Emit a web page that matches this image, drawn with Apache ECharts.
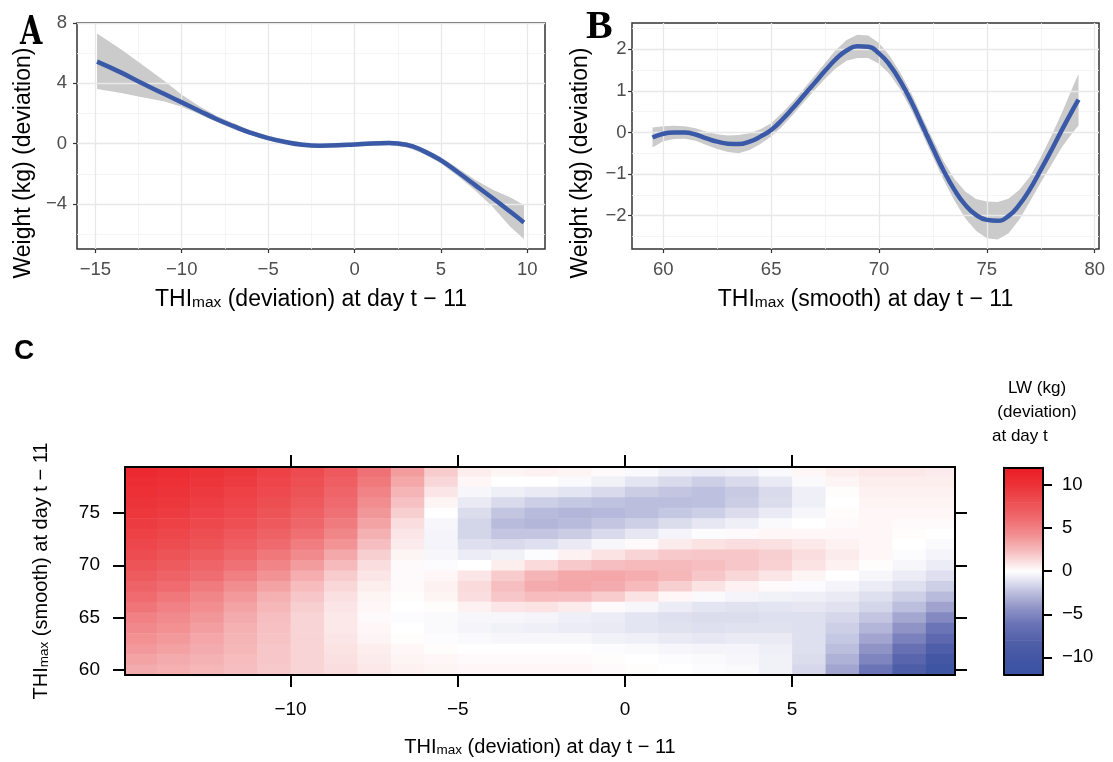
<!DOCTYPE html>
<html><head><meta charset="utf-8">
<script src="https://cdn.jsdelivr.net/npm/echarts@6/dist/echarts.min.js"></script>
<style>html,body{margin:0;padding:0;background:#fff}#chart{width:1113px;height:762px}</style>
</head><body><div id="chart"></div>
<script>
// ---------- Panel A: THImax (deviation) vs weight deviation ----------
const thiDevA = [-14.9,-13.5,-12.5,-11,-10,-9,-8,-7,-6,-5,-4,-3,-2,-1,0,1,2,3,4,5,6,7,8,9,9.8];
const fitA    = [5.44,4.71,4.12,3.29,2.74,2.19,1.64,1.16,0.72,0.37,0.11,-0.07,-0.13,-0.11,-0.05,0.02,0.04,-0.07,-0.49,-1.1,-1.91,-2.76,-3.62,-4.5,-5.22];
const upperA  = [7.3,6.25,5.41,4.16,3.24,2.5,1.86,1.36,0.88,0.52,0.26,0.08,0.02,0.04,0.1,0.17,0.19,0.09,-0.31,-0.88,-1.64,-2.4,-3.05,-3.55,-4.06];
const lowerA  = [3.62,3.36,3.13,2.8,2.45,1.97,1.45,0.96,0.56,0.22,-0.04,-0.22,-0.28,-0.26,-0.2,-0.13,-0.11,-0.23,-0.67,-1.32,-2.18,-3.12,-4.19,-5.49,-6.32];

// ---------- Panel B: THImax (smooth) vs weight deviation ----------
const thiSmoothB = [59.5,60,60.5,61,61.5,62,62.5,63,63.5,64,64.5,65,65.5,66,66.5,67,67.5,68,68.5,69,69.5,70,70.5,71,71.5,72,72.5,73,73.5,74,74.5,75,75.5,76,76.5,77,77.5,78,78.5,79,79.25];
const fitB   = [-0.12,-0.03,0,0,-0.05,-0.14,-0.22,-0.27,-0.28,-0.22,-0.1,0.06,0.3,0.58,0.88,1.18,1.48,1.76,1.97,2.07,2.06,1.9,1.62,1.22,0.74,0.18,-0.38,-0.92,-1.38,-1.74,-1.98,-2.1,-2.12,-2.01,-1.74,-1.36,-0.9,-0.42,0.08,0.56,0.79];
const upperB = [0.12,0.15,0.16,0.15,0.10,0.02,-0.04,-0.07,-0.06,-0.02,0.08,0.22,0.46,0.74,1.04,1.35,1.67,1.98,2.22,2.35,2.33,2.15,1.84,1.42,0.94,0.38,-0.17,-0.70,-1.12,-1.42,-1.60,-1.66,-1.67,-1.59,-1.38,-1.06,-0.60,-0.07,0.50,1.11,1.41];
const lowerB = [-0.36,-0.21,-0.16,-0.15,-0.20,-0.30,-0.40,-0.47,-0.50,-0.42,-0.28,-0.10,0.14,0.42,0.72,1.01,1.29,1.54,1.72,1.79,1.79,1.65,1.40,1.02,0.54,-0.02,-0.59,-1.14,-1.64,-2.06,-2.36,-2.54,-2.57,-2.43,-2.10,-1.66,-1.20,-0.77,-0.34,0.01,0.17];

// ---------- Panel C: LW (kg) surface ----------
const cellThiDev    = [-14.5,-13.5,-12.5,-11.5,-10.5,-9.5,-8.5,-7.5,-6.5,-5.5,-4.5,-3.5,-2.5,-1.5,-0.5,0.5,1.5,2.5,3.5,4.5,5.5,6.5,7.5,8.5,9.5];
const cellThiSmooth = [79,78,77,76,75,74,73,72,71,70,69,68,67,66,65,64,63,62,61,60];
const lwRows = [
 [10.8,10.5,10.1,9.6,9.0,8.3,7.3,5.8,3.7,1.8,0.6,0.4,0.5,0.4,0.2,-0.2,-0.6,-0.7,-0.6,-0.2,0.3,0.6,0.8,0.8,0.7],
 [10.5,10.2,9.8,9.3,8.7,8.0,7.0,5.4,3.2,1.4,0.3,0.0,0.0,-0.2,-0.5,-1.0,-1.4,-1.8,-1.4,-0.8,-0.2,0.4,0.6,0.6,0.6],
 [10.2,9.9,9.5,9.0,8.4,7.7,6.6,4.9,2.7,0.9,-0.3,-0.6,-0.8,-1.0,-1.4,-1.9,-2.2,-2.4,-2.0,-1.4,-0.6,0.1,0.5,0.5,0.5],
 [9.9,9.6,9.2,8.7,8.1,7.3,6.2,4.4,2.2,0.4,-0.8,-1.4,-1.8,-2.1,-2.3,-2.5,-2.5,-2.4,-1.9,-1.3,-0.6,0.0,0.4,0.4,0.4],
 [9.6,9.3,8.9,8.4,7.7,6.9,5.8,3.9,1.7,0.0,-1.3,-2.2,-2.6,-2.8,-2.7,-2.5,-2.1,-1.8,-1.3,-0.8,-0.3,0.1,0.3,0.3,0.3],
 [9.3,9.0,8.5,8.0,7.3,6.5,5.3,3.4,1.2,-0.3,-1.6,-2.6,-2.8,-2.6,-2.2,-1.8,-1.3,-0.9,-0.6,-0.2,0.0,0.2,0.3,0.2,0.2],
 [9.0,8.6,8.1,7.5,6.8,5.9,4.7,2.9,0.9,-0.4,-1.6,-2.2,-2.2,-1.9,-1.4,-0.9,-0.4,-0.1,0.2,0.3,0.3,0.3,0.3,0.1,0.0],
 [8.6,8.2,7.7,7.0,6.2,5.2,4.0,2.3,0.7,-0.4,-1.2,-1.4,-1.2,-0.8,-0.3,0.2,0.7,1.0,1.2,1.1,0.8,0.5,0.3,0.0,-0.2],
 [8.2,7.7,7.1,6.4,5.5,4.5,3.2,1.7,0.4,-0.3,-0.7,-0.5,-0.1,0.5,1.0,1.5,1.9,2.0,2.0,1.7,1.2,0.7,0.3,-0.1,-0.4],
 [7.7,7.2,6.6,5.8,4.8,3.7,2.5,1.2,0.2,-0.1,0.0,0.6,1.3,1.9,2.3,2.5,2.5,2.3,2.0,1.6,1.0,0.5,0.1,-0.3,-0.7],
 [7.2,6.7,6.0,5.1,4.1,3.0,1.8,0.9,0.2,0.3,0.9,1.8,2.7,3.2,3.3,3.0,2.6,2.0,1.4,0.9,0.4,0.0,-0.3,-0.7,-1.2],
 [6.7,6.1,5.3,4.4,3.4,2.4,1.4,0.6,0.2,0.5,1.3,2.3,3.1,3.3,3.1,2.5,1.7,1.0,0.5,0.2,-0.1,-0.4,-0.7,-1.2,-1.8],
 [6.1,5.5,4.7,3.8,2.9,2.0,1.1,0.4,0.1,0.4,1.2,2.0,2.4,2.3,1.8,1.0,0.3,-0.2,-0.4,-0.5,-0.6,-0.8,-1.2,-1.8,-2.6],
 [5.6,5.0,4.3,3.4,2.6,1.7,0.9,0.3,0.0,0.1,0.5,0.9,1.0,0.7,0.2,-0.3,-0.7,-1.0,-1.1,-1.0,-0.9,-1.1,-1.6,-2.5,-3.6],
 [5.0,4.5,3.9,3.1,2.3,1.5,0.8,0.2,-0.1,-0.2,-0.3,-0.3,-0.4,-0.6,-0.7,-1.0,-1.2,-1.3,-1.3,-1.2,-1.2,-1.5,-2.2,-3.4,-4.8],
 [4.6,4.2,3.6,2.9,2.2,1.5,0.8,0.3,0.0,-0.2,-0.4,-0.5,-0.6,-0.7,-0.8,-1.0,-1.1,-1.2,-1.1,-1.1,-1.2,-1.8,-2.8,-4.3,-6.0],
 [4.2,3.8,3.3,2.7,2.1,1.5,0.9,0.4,0.1,-0.1,-0.2,-0.3,-0.3,-0.3,-0.5,-0.6,-0.8,-0.9,-0.8,-0.8,-1.2,-2.1,-3.5,-5.3,-7.2],
 [3.8,3.5,3.1,2.6,2.0,1.5,1.0,0.6,0.3,0.1,0.0,0.0,0.0,0.0,-0.1,-0.2,-0.3,-0.4,-0.4,-0.6,-1.2,-2.5,-4.3,-6.4,-8.5],
 [3.4,3.1,2.8,2.4,2.0,1.5,1.1,0.7,0.4,0.3,0.2,0.2,0.2,0.2,0.1,0.0,-0.1,-0.2,-0.3,-0.5,-1.3,-3.0,-5.1,-7.5,-9.8],
 [3.1,2.9,2.6,2.3,1.9,1.5,1.2,0.8,0.5,0.4,0.3,0.3,0.3,0.3,0.2,0.1,0.0,-0.1,-0.2,-0.5,-1.5,-3.5,-6.0,-8.6,-11.0]
];

// ---------- tick labels ----------
const ticksAx = [-15,-10,-5,0,5,10],  minorAx = [-12.5,-7.5,-2.5,2.5,7.5];
const ticksAy = [-4,0,4,8],           minorAy = [-6,-2,2,6];
const ticksBx = [60,65,70,75,80],     minorBx = [62.5,67.5,72.5,77.5];
const ticksBy = [-2,-1,0,1,2],        minorBy = [-2.5,-1.5,-0.5,0.5,1.5,2.5];
const ticksCx = [-10,-5,0,5],         ticksCy = [60,65,70,75];
const ticksLW = [-10,-5,0,5,10];

// ---------- styling ----------
const FONT = '"Liberation Sans", Arial, Helvetica, sans-serif';
const lwPalette = ['#3a53a4','#4256a4','#5360a9','#6b74b6','#9599c9','#c8cae4','#ffffff','#f7c6c8','#f29496','#ef6d71','#ed4f53','#ec3238','#ec1c24'];
const LW_MIN = -12, LW_MAX = 12;
const fmt = v => (v < 0 ? '\u2212' + Math.abs(v) : String(v));

const chart = echarts.init(document.getElementById('chart'), null, {renderer: 'canvas'});

const titleRich = (fs, ss, pad) => ({
  n: {fontSize: fs, lineHeight: fs, color: '#000', fontFamily: FONT},
  s: {fontSize: ss, lineHeight: ss, color: '#000', fontFamily: FONT, verticalAlign: 'bottom', padding: [pad, 0, 0, 0]}
});
const thiName = rest => '{n|THI}{s|max}{n|' + rest + '}';

function panelAxes(gi, xr, yr, tx, mx, ty, my, xName, ylabMargin, yGap) {
  const tickStyle = {length: 4, lineStyle: {color: '#333', width: 1.2}};
  const major = {color: '#e8e8e8', width: 1.3};
  const minor = {color: '#f3f3f3', width: 0.8};
  const lab = {formatter: fmt, color: '#4d4d4d', fontSize: 18.5, fontFamily: FONT};
  return {
    x: [
      {gridIndex: gi, type: 'value', min: xr[0], max: xr[1], position: 'bottom', z: 3,
       axisLine: {show: false, onZero: false},
       axisTick: Object.assign({show: true, customValues: tx}, tickStyle),
       axisLabel: Object.assign({customValues: tx, margin: 11}, lab),
       splitLine: {show: true, lineStyle: major},
       name: thiName(xName), nameLocation: 'middle', nameGap: 30,
       nameTextStyle: {rich: titleRich(23, 15.5, 15)}},
      {gridIndex: gi, type: 'value', min: xr[0], max: xr[1], position: 'top', z: 1,
       axisLine: {show: false, onZero: false}, axisTick: {show: false, customValues: mx},
       axisLabel: {show: false, customValues: mx},
       splitLine: {show: true, lineStyle: minor}}
    ],
    y: [
      {gridIndex: gi, type: 'value', min: yr[0], max: yr[1], position: 'left', z: 3,
       axisLine: {show: false, onZero: false},
       axisTick: Object.assign({show: true, customValues: ty}, tickStyle),
       axisLabel: Object.assign({customValues: ty, margin: ylabMargin}, lab),
       splitLine: {show: true, lineStyle: major},
       name: 'Weight (kg) (deviation)', nameLocation: 'middle', nameGap: yGap,
       nameTextStyle: {fontSize: 23, color: '#000', fontFamily: FONT, padding: [0, 54, 0, 0]}},
      {gridIndex: gi, type: 'value', min: yr[0], max: yr[1], position: 'right', z: 1,
       axisLine: {show: false, onZero: false}, axisTick: {show: false, customValues: my},
       axisLabel: {show: false, customValues: my},
       splitLine: {show: true, lineStyle: minor}}
    ]
  };
}

const pA = panelAxes(0, [-16.06, 11.02], [-6.98, 8], ticksAx, minorAx, ticksAy, minorAy, ' (deviation) at day t \u2212 11', 10, 42);
const pB = panelAxes(1, [58.55, 80.2], [-2.8, 2.63], ticksBx, minorBx, ticksBy, minorBy, ' (smooth) at day t \u2212 11', 5.5, 40);

const blk = {color: '#000', width: 2};
const cLab = {color: '#000', fontSize: 19, fontFamily: FONT, formatter: fmt};
const xC = [
  {gridIndex: 2, type: 'value', min: -14.95, max: 9.87, position: 'bottom', z: 5,
   axisLine: {show: true, onZero: false, lineStyle: blk},
   axisTick: {show: true, length: 12, lineStyle: blk, customValues: ticksCx},
   axisLabel: Object.assign({customValues: ticksCx, margin: 25}, cLab),
   splitLine: {show: false},
   name: thiName(' (deviation) at day t \u2212 11'), nameLocation: 'middle', nameGap: 62,
   nameTextStyle: {rich: titleRich(20, 13.5, 13)}},
  {gridIndex: 2, type: 'value', min: -14.95, max: 9.87, position: 'top', z: 5,
   axisLine: {show: true, onZero: false, lineStyle: blk},
   axisTick: {show: true, length: 12, lineStyle: blk, customValues: ticksCx},
   axisLabel: {show: false, customValues: ticksCx}, splitLine: {show: false}}
];
const yC = [
  {gridIndex: 2, type: 'value', min: 59.5, max: 79.4, position: 'left', z: 5,
   axisLine: {show: true, onZero: false, lineStyle: blk},
   axisTick: {show: true, length: 12, lineStyle: blk, customValues: ticksCy},
   axisLabel: Object.assign({customValues: ticksCy, margin: 25}, cLab),
   splitLine: {show: false},
   name: thiName(' (smooth) at day t \u2212 11'), nameLocation: 'middle', nameGap: 74,
   nameTextStyle: {rich: titleRich(20, 13.5, 13)}},
  {gridIndex: 2, type: 'value', min: 59.5, max: 79.4, position: 'right', z: 5,
   axisLine: {show: true, onZero: false, lineStyle: blk},
   axisTick: {show: true, length: 12, lineStyle: blk, customValues: ticksCy},
   axisLabel: {show: false, customValues: ticksCy}, splitLine: {show: false}}
];
const xD = [
  {gridIndex: 3, type: 'value', min: 0, max: 1, position: 'bottom', z: 5,
   axisLine: {show: true, onZero: false, lineStyle: blk}, axisTick: {show: false}, axisLabel: {show: false}, splitLine: {show: false}},
  {gridIndex: 3, type: 'value', min: 0, max: 1, position: 'top', z: 5,
   axisLine: {show: true, onZero: false, lineStyle: blk}, axisTick: {show: false}, axisLabel: {show: false}, splitLine: {show: false}}
];
const yD = [
  {gridIndex: 3, type: 'value', min: LW_MIN, max: LW_MAX, position: 'left', z: 5,
   axisLine: {show: true, onZero: false, lineStyle: blk}, axisTick: {show: false}, axisLabel: {show: false}, splitLine: {show: false}},
  {gridIndex: 3, type: 'value', min: LW_MIN, max: LW_MAX, position: 'right', z: 5,
   axisLine: {show: true, onZero: false, lineStyle: blk},
   axisTick: {show: true, length: 9, lineStyle: blk, customValues: ticksLW},
   axisLabel: Object.assign({customValues: ticksLW, margin: 19}, cLab, {fontSize: 18.5}),
   splitLine: {show: false}}
];

// series data tables
const pairs = (xs, ys) => xs.map((x, i) => [x, ys[i]]);
const band = (xs, lo, up) => xs.map((x, i) => [x, lo[i], up[i]]);
const heatData = [];
lwRows.forEach((row, r) => row.forEach((v, c) => heatData.push([cellThiDev[c], cellThiSmooth[r], v])));
const cellW = Math.abs(cellThiDev[1] - cellThiDev[0]);
const cellH = Math.abs(cellThiSmooth[1] - cellThiSmooth[0]);
const stopStep = (LW_MAX - LW_MIN) / (lwPalette.length - 1);
const barData = lwPalette.slice(0, -1).map((c, i) => [LW_MIN + i * stopStep, LW_MIN + (i + 1) * stopStep, i]);

// confidence ribbon: one polygon through the upper edge and back along the lower edge
function ribbonItem(params, api) {
  if (params.dataIndexInside !== 0) return null;
  const n = params.dataInsideLength;
  const top = [], bot = [];
  for (let j = 0; j < n; j++) {
    top.push(api.coord([api.value(0, j), api.value(2, j)]));
    bot.push(api.coord([api.value(0, j), api.value(1, j)]));
  }
  return {type: 'polygon', shape: {points: top.concat(bot.reverse())}, style: {fill: '#cbcbcb', stroke: null}};
}
const fitLine = {color: '#3a5aa8', width: 4.5};

const option = {
  animation: false,
  backgroundColor: '#ffffff',
  textStyle: {fontFamily: FONT},
  grid: [
    {left: 77, top: 23, width: 468, height: 226, show: true, borderColor: '#333', borderWidth: 1.5, backgroundColor: 'transparent', outerBoundsMode: 'none'},
    {left: 632, top: 23, width: 467, height: 226, show: true, borderColor: '#333', borderWidth: 1.5, backgroundColor: 'transparent', outerBoundsMode: 'none'},
    {left: 125, top: 467, width: 830, height: 208, outerBoundsMode: 'none'},
    {left: 1004, top: 467.8, width: 39, height: 206.8, outerBoundsMode: 'none'}
  ],
  xAxis: pA.x.concat(pB.x, xC, xD),
  yAxis: pA.y.concat(pB.y, yC, yD),
  visualMap: [{type: 'continuous', show: false, min: LW_MIN, max: LW_MAX, dimension: 2, seriesIndex: [4], inRange: {color: lwPalette}}],
  series: [
    {type: 'custom', xAxisIndex: 0, yAxisIndex: 0, data: band(thiDevA, lowerA, upperA), renderItem: ribbonItem, clip: true, silent: true, z: 2},
    {type: 'line', xAxisIndex: 0, yAxisIndex: 0, data: pairs(thiDevA, fitA), smooth: true, symbol: 'none', lineStyle: fitLine, z: 3, silent: true},
    {type: 'custom', xAxisIndex: 2, yAxisIndex: 2, data: band(thiSmoothB, lowerB, upperB), renderItem: ribbonItem, clip: true, silent: true, z: 2},
    {type: 'line', xAxisIndex: 2, yAxisIndex: 2, data: pairs(thiSmoothB, fitB), smooth: true, symbol: 'none', lineStyle: fitLine, z: 3, silent: true},
    {type: 'custom', xAxisIndex: 4, yAxisIndex: 4, data: heatData, clip: true, silent: true, z: 2,
     renderItem: (params, api) => {
       const a = api.coord([api.value(0) - cellW / 2, api.value(1) + cellH / 2]);
       const b = api.coord([api.value(0) + cellW / 2, api.value(1) - cellH / 2]);
       return {type: 'rect', shape: {x: a[0], y: a[1], width: b[0] - a[0] + 0.6, height: b[1] - a[1] + 0.6},
               style: {fill: api.visual('color')}};
     }},
    {type: 'custom', xAxisIndex: 6, yAxisIndex: 6, data: barData, clip: true, silent: true, z: 2,
     renderItem: (params, api) => {
       const i = api.value(2);
       const lo = api.coord([0, api.value(0)]);
       const hi = api.coord([1, api.value(1)]);
       return {type: 'rect', shape: {x: lo[0], y: hi[1], width: hi[0] - lo[0], height: lo[1] - hi[1] + 0.6},
               style: {fill: new echarts.graphic.LinearGradient(0, 1, 0, 0, [{offset: 0, color: lwPalette[i]}, {offset: 1, color: lwPalette[i + 1]}])}};
     }}
  ],
  graphic: [
    {type: 'text', x: 20, y: 14, scaleX: 0.72, style: {text: 'A', font: 'bold 40px "DejaVu Serif"', fill: '#000', verticalAlign: 'top'}},
    {type: 'text', x: 586, y: 8, style: {text: 'B', font: 'bold 40px "Liberation Serif"', fill: '#000', verticalAlign: 'top'}},
    {type: 'text', x: 14, y: 337, style: {text: 'C', font: 'bold 28px "Liberation Sans"', fill: '#000', verticalAlign: 'top'}},
    {type: 'text', x: 1037, y: 388, style: {text: 'LW (kg)', font: '17px "Liberation Sans"', fill: '#000', align: 'center', verticalAlign: 'middle'}},
    {type: 'text', x: 1037, y: 412, style: {text: '(deviation)', font: '17px "Liberation Sans"', fill: '#000', align: 'center', verticalAlign: 'middle'}},
    {type: 'text', x: 992, y: 436, style: {text: 'at day t', font: '17px "Liberation Sans"', fill: '#000', align: 'left', verticalAlign: 'middle'}}
  ]
};
chart.setOption(option);
</script>
</body></html>
